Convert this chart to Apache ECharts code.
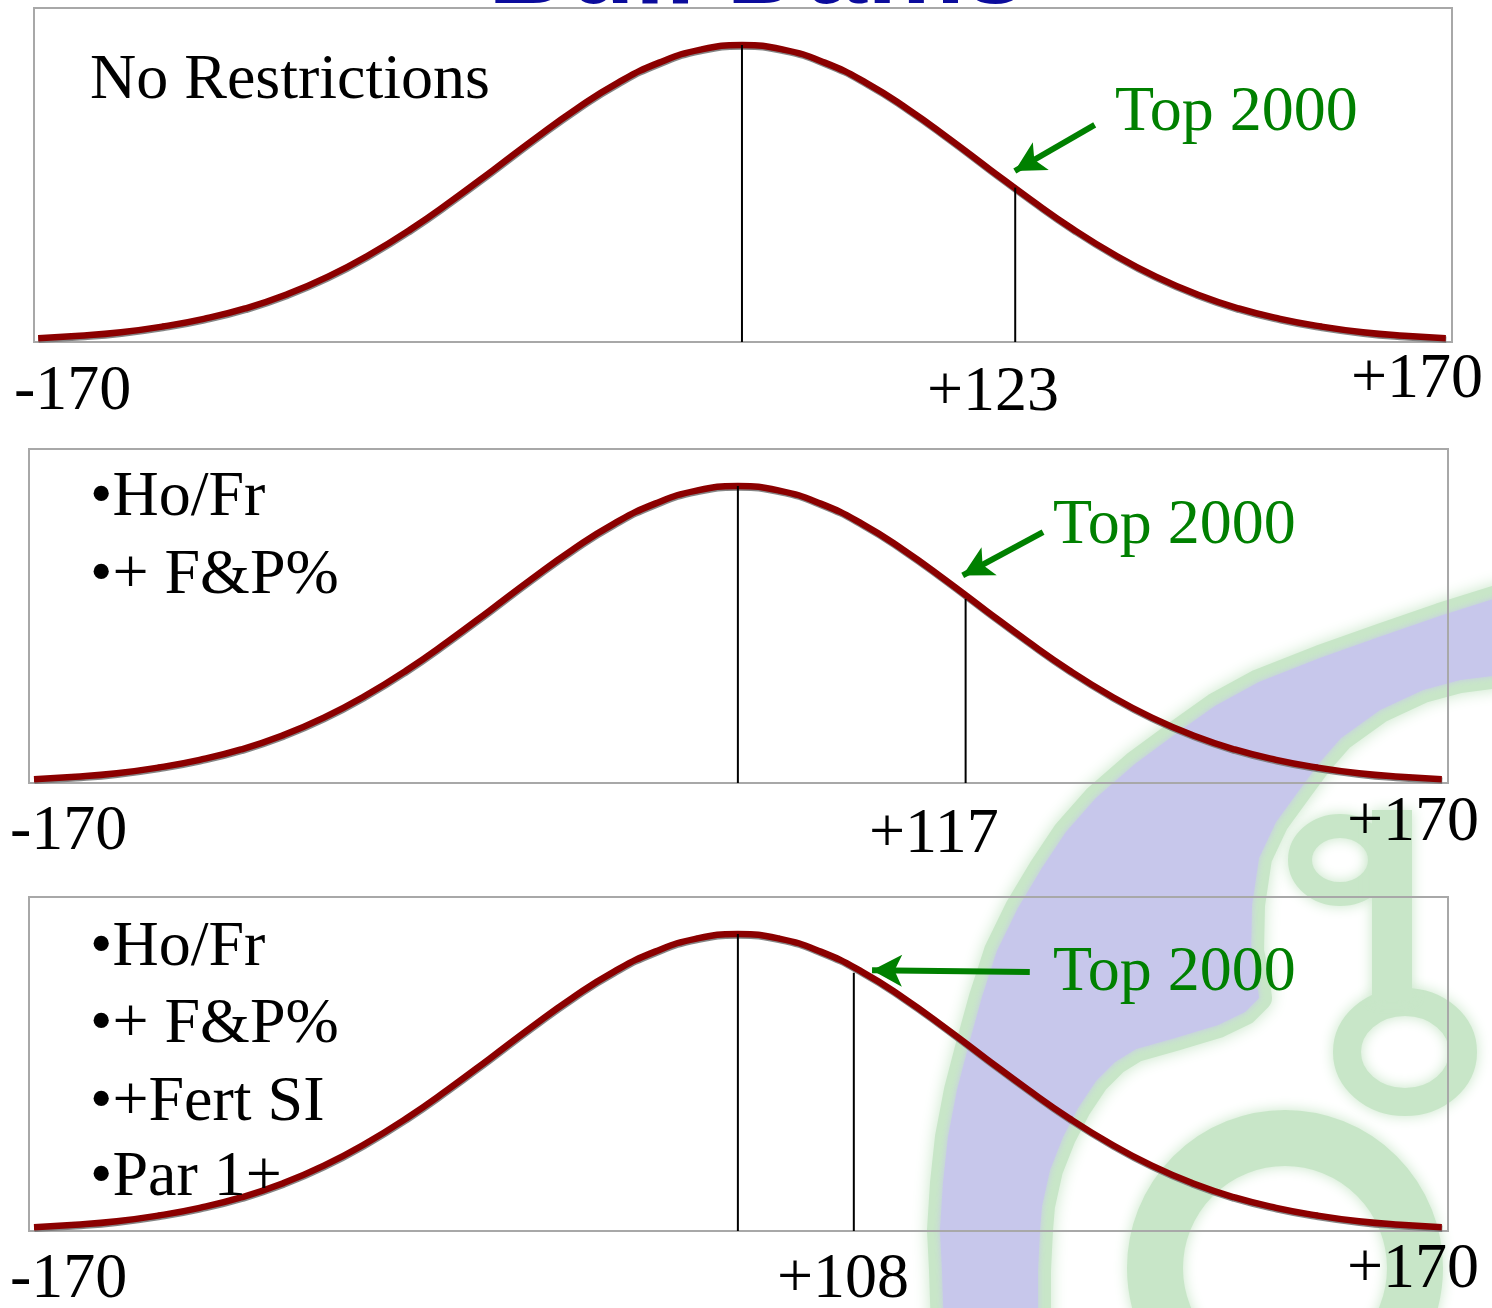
<!DOCTYPE html>
<html><head><meta charset="utf-8">
<script src="https://cdn.jsdelivr.net/npm/echarts@6/dist/echarts.min.js"></script>
<style>html,body{margin:0;padding:0;background:#fff;}#c{width:1492px;height:1308px;}</style>
</head><body><div id="c"></div>
<script>
// ---- data ----
const curveX = [-170,-160,-150,-140,-130,-120,-110,-100,-90,-80,-70,-60,-50,-40,-30,-20,-10,0,10,20,30,40,50,60,70,80,90,100,110,120,130,140,150,160,170];
const curveY = [1.3,2.1,3.3,5.2,7.8,11.3,16.0,22.0,29.4,38.0,47.7,58.0,68.5,78.5,87.3,94.1,98.5,100,98.5,94.1,87.3,78.5,68.5,58.0,47.7,38.0,29.4,22.0,16.0,11.3,7.8,5.2,3.3,2.1,1.3];
const meanX = 0;
const meanHeight = 100;
const cutX = [66, 55, 28];
const cutHeight = [52, 62, 87];
const cutLabels = ['+123', '+117', '+108'];
const rangeLabels = ['-170', '+170'];
const panelNotes = [['No Restrictions'], ['•Ho/Fr', '•+ F&P%'], ['•Ho/Fr', '•+ F&P%', '•+Fert SI', '•Par 1+']];
const calloutText = 'Top 2000';
const titleText = 'Bull Dams';

// ---- layout ----
const SERIF = "'Times New Roman','Liberation Serif',serif";
const GREEN = '#008000';
const FONT_PX = 64;
const grids = [
  {left: 34, top: 8, width: 1418, height: 334, min: -171.0, max: 171.5},
  {left: 29, top: 449, width: 1419, height: 334, min: -171.2, max: 171.5},
  {left: 29, top: 897, width: 1419, height: 334, min: -171.2, max: 171.5}
];
// arrow tail/head in data coords of each panel
const arrows = [
  [[85.2, 73.1], [65.9, 57.6]],
  [[73.7, 84.5], [54.3, 69.9]],
  [[70.5, 87.2], [32.4, 87.8]]
];
const notePos = [
  {x: 90, ys: [81]},
  {x: 90, ys: [498, 576]},
  {x: 90, ys: [948, 1025, 1103, 1178]}
];
const calloutPos = [[1115, 113], [1053, 526], [1053, 973]];
const lowLabelPos = [[14, 392], [10, 832], [10, 1280]];
const highLabelPos = [[1351, 380], [1347, 823], [1347, 1270]];
const cutLabelPos = [[927, 393], [869, 835], [777, 1280]];

const curveData = curveX.map((x, i) => [x, curveY[i]]);

const chart = echarts.init(document.getElementById('c'), null, {renderer: 'canvas'});
const option = {
  animation: false,
  backgroundColor: '#ffffff',
  grid: grids.map(g => ({left: g.left, top: g.top, width: g.width, height: g.height, show: true,
    borderColor: '#a8a8a8', borderWidth: 2, backgroundColor: 'transparent', containLabel: false})),
  xAxis: grids.map((g, i) => ({type: 'value', gridIndex: i, min: g.min, max: g.max, show: false})),
  yAxis: grids.map((g, i) => ({type: 'value', gridIndex: i, min: 0, max: 112.5, show: false})),
  series: [],
  graphic: []
};

grids.forEach((g, i) => {
  option.series.push({
    type: 'line', xAxisIndex: i, yAxisIndex: i, data: curveData, smooth: true, symbol: 'none', silent: true, z: 3,
    lineStyle: {color: '#8b0000', width: 6.5, shadowColor: 'rgba(120,120,120,0.9)', shadowOffsetY: 1.5, shadowOffsetX: 0.5, shadowBlur: 0},
    markLine: {
      silent: true, symbol: ['none', 'arrow'], symbolSize: [24, 30],
      lineStyle: {color: GREEN, width: 6, type: 'solid'}, label: {show: false},
      data: [[{coord: arrows[i][0]}, {coord: arrows[i][1]}]]
    }
  });
  option.series.push({
    type: 'line', xAxisIndex: i, yAxisIndex: i, data: [[meanX, 0], [meanX, meanHeight]], symbol: 'none', silent: true, z: 4,
    lineStyle: {color: '#000', width: 2}
  });
  option.series.push({
    type: 'line', xAxisIndex: i, yAxisIndex: i, data: [[cutX[i], 0], [cutX[i], cutHeight[i]]], symbol: 'none', silent: true, z: 4,
    lineStyle: {color: '#000', width: 2}
  });
});

// watermark (background decoration)
const purpleLeft = [[1500,597],[1440,616],[1382,636],[1320,658],[1259,682],[1215,706],[1177,733],[1135,764],[1096,798],[1066,832],[1042,868],[1018,908],[997,951],[982,997],[969,1044],[957,1090],[948,1137],[943,1183],[940,1230],[942,1270],[944,1330]];
const purpleRight = [[1038,1330],[1038,1270],[1040,1230],[1042,1206],[1050,1170],[1063,1137],[1078,1108],[1096,1081],[1115,1062],[1136,1049],[1175,1038],[1218,1025],[1245,1012],[1259,998],[1256,975],[1251,951],[1252,905],[1259,858],[1276,822],[1300,789],[1320,762],[1341,738],[1380,710],[1423,690],[1460,680],[1500,675]];
const purplePts = purpleLeft.concat(purpleRight);
const wmGreen = 'rgba(200,230,200,1)';
option.graphic.push(
  {type: 'polygon', z: -10, silent: true, shape: {points: purplePts},
   style: {fill: 'none', stroke: wmGreen, lineWidth: 26, lineJoin: 'round', shadowBlur: 16, shadowColor: wmGreen}},
  {type: 'polygon', z: -9, silent: true, shape: {points: purplePts},
   style: {fill: '#c7c7eb', shadowBlur: 6, shadowColor: '#c7c7eb'}},
  {type: 'circle', z: -10, silent: true, shape: {cx: 1285, cy: 1268, r: 130},
   style: {fill: 'none', stroke: wmGreen, lineWidth: 56, shadowBlur: 14, shadowColor: wmGreen}},
  {type: 'ellipse', z: -10, silent: true, shape: {cx: 1340, cy: 860, rx: 40, ry: 34},
   style: {fill: 'none', stroke: wmGreen, lineWidth: 24, shadowBlur: 14, shadowColor: wmGreen}},
  {type: 'ellipse', z: -10, silent: true, shape: {cx: 1405, cy: 1052, rx: 58, ry: 50},
   style: {fill: 'none', stroke: wmGreen, lineWidth: 28, shadowBlur: 14, shadowColor: wmGreen}},
  {type: 'line', z: -10, silent: true, shape: {x1: 1392, y1: 810, x2: 1392, y2: 1000},
   style: {stroke: wmGreen, lineWidth: 40, shadowBlur: 14, shadowColor: wmGreen}}
);

// title (cut off at top)
option.graphic.push({type: 'text', z: 50, silent: true, x: 757, y: -27,
  style: {text: titleText, fill: '#0c0c9c', font: "bold 110px 'Liberation Sans', Arial, sans-serif", align: 'center', verticalAlign: 'middle'}});

const txt = (t, x, y, color) => ({type: 'text', z: 60, silent: true, x: x, y: y,
  style: {text: t, fill: color || '#000', font: FONT_PX + "px " + SERIF, align: 'left', verticalAlign: 'middle'}});

panelNotes.forEach((lines, i) => {
  lines.forEach((l, j) => option.graphic.push(txt(l, notePos[i].x, notePos[i].ys[j])));
  option.graphic.push(txt(calloutText, calloutPos[i][0], calloutPos[i][1], GREEN));
  option.graphic.push(txt(rangeLabels[0], lowLabelPos[i][0], lowLabelPos[i][1]));
  option.graphic.push(txt(rangeLabels[1], highLabelPos[i][0], highLabelPos[i][1]));
  option.graphic.push(txt(cutLabels[i], cutLabelPos[i][0], cutLabelPos[i][1]));
});

chart.setOption(option);
</script>
</body></html>
